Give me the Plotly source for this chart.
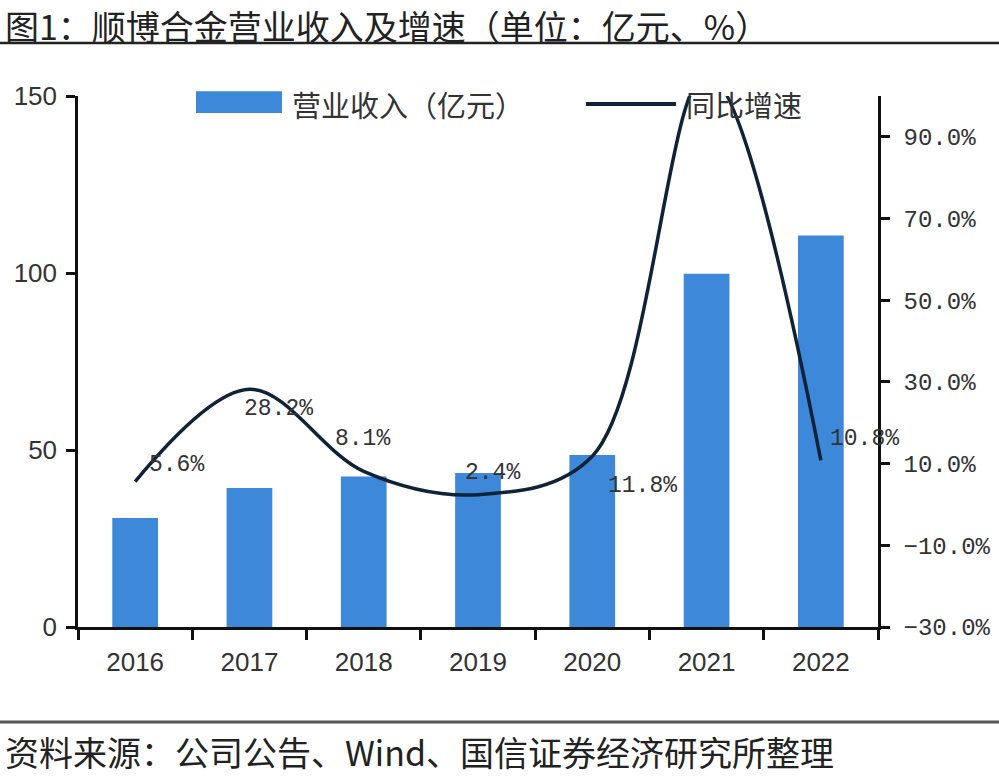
import plotly.graph_objects as go

years = ["2016", "2017", "2018", "2019", "2020", "2021", "2022"]
revenue = [30.8, 39.3, 42.5, 43.5, 48.6, 99.8, 110.6]          # 亿元
growth = [0.056, 0.282, 0.081, 0.024, 0.118, 1.055, 0.108]        # 同比增速
growth_labels = ["5.6%", "28.2%", "8.1%", "2.4%", "11.8%", "", "10.8%"]

title_text = "图1：顺博合金营业收入及增速（单位：亿元、%）"
source_text = "资料来源：公司公告、Wind、国信证券经济研究所整理"
bar_name = "营业收入（亿元）"
line_name = "同比增速"

# label offsets (style only)
label_dx = [41, 29, -1, 14, 50, 0, 44]
label_dy = [17, -20, 32, 22, -30, 0, 21]

BAR_COLOR = "#3d88d8"
LINE_COLOR = "#0f2238"
CJK = "Noto Sans CJK SC"

fig = go.Figure()
fig.add_trace(go.Bar(x=years, y=revenue, name=bar_name, marker=dict(color=BAR_COLOR, line=dict(width=0)),
                     width=0.4, yaxis="y", showlegend=False))
fig.add_trace(go.Scatter(x=years, y=growth, name=line_name, mode="lines", yaxis="y2",
                         line=dict(color=LINE_COLOR, width=3.5, shape="spline", smoothing=1.0),
                         showlegend=False))

annotations = []
for i, (g, lab, dx, dy) in enumerate(zip(growth, growth_labels, label_dx, label_dy)):
    if not lab:
        continue
    annotations.append(dict(x=i, y=g, xref="x", yref="y2", text=lab, showarrow=False,
                            xshift=dx, yshift=dy, font=dict(family="Liberation Mono", size=23, color="#333333")))

# title, source
annotations.append(dict(x=-0.094, y=1.1337, xref="paper", yref="paper", xanchor="left", yanchor="middle",
                        text=title_text, showarrow=False, font=dict(family=CJK, size=34, color="#222222")))
annotations.append(dict(x=-0.094, y=-0.2354, xref="paper", yref="paper", xanchor="left", yanchor="middle",
                        text=source_text, showarrow=False, font=dict(family=CJK, size=34, color="#222222")))
# custom legend text
annotations.append(dict(x=0.265, y=0.985, xref="paper", yref="paper", xanchor="left", yanchor="middle",
                        text=bar_name, showarrow=False, font=dict(family=CJK, size=29, color="#333333")))
annotations.append(dict(x=0.757, y=0.985, xref="paper", yref="paper", xanchor="left", yanchor="middle",
                        text=line_name, showarrow=False, font=dict(family=CJK, size=29, color="#333333")))

shapes = [
    dict(type="line", xref="paper", yref="paper", x0=-0.1, x1=1.16, y0=1.0998, y1=1.0998,
         line=dict(color="#222222", width=2.5)),
    dict(type="line", xref="paper", yref="paper", x0=-0.1, x1=1.16, y0=-0.1789, y1=-0.1789,
         line=dict(color="#555555", width=3)),
    dict(type="rect", xref="paper", yref="paper", x0=0.1475, x1=0.255, y0=0.968, y1=1.009,
         fillcolor=BAR_COLOR, line=dict(width=0)),
    dict(type="line", xref="paper", yref="paper", x0=0.635, x1=0.7475, y0=0.985, y1=0.985,
         line=dict(color=LINE_COLOR, width=4)),
]

fig.update_layout(
    width=999, height=778,
    margin=dict(l=78, r=121, t=96, b=151, autoexpand=False),
    paper_bgcolor="white", plot_bgcolor="white",
    bargap=0.6,
    xaxis=dict(type="category", range=[-0.5, 6.5], showline=True, linecolor="#111111", linewidth=2.5,
               ticks="outside", tickson="boundaries", ticklen=10, tickwidth=2.5, tickcolor="#111111",
               tickfont=dict(family="Liberation Sans", size=26, color="#333333"), showgrid=False,
               zeroline=False, tickangle=0, ticklabelstandoff=10),
    yaxis=dict(range=[0, 150], tickvals=[0, 50, 100, 150], showline=True, linecolor="#111111",
               linewidth=2.5, ticks="outside", ticklen=9, tickwidth=2.5, tickcolor="#111111",
               tickfont=dict(family="Liberation Sans", size=26, color="#333333"), showgrid=False,
               zeroline=False, ticklabelstandoff=4),
    yaxis2=dict(range=[-0.3, 1.0], overlaying="y", side="right", tickvals=[-0.3, -0.1, 0.1, 0.3, 0.5, 0.7, 0.9],
                tickformat=".1%", showline=True, linecolor="#111111", linewidth=2.5, ticks="outside",
                ticklen=9, tickwidth=2.5, tickcolor="#111111",
                tickfont=dict(family="Liberation Mono", size=24, color="#333333"), showgrid=False,
                zeroline=False, ticklabelstandoff=9),
    annotations=annotations,
    shapes=shapes,
    showlegend=False,
)

fig.write_html("out.html", config={"displayModeBar": False},
               post_script="document.body.style.margin='0';document.body.style.overflow='hidden';")
